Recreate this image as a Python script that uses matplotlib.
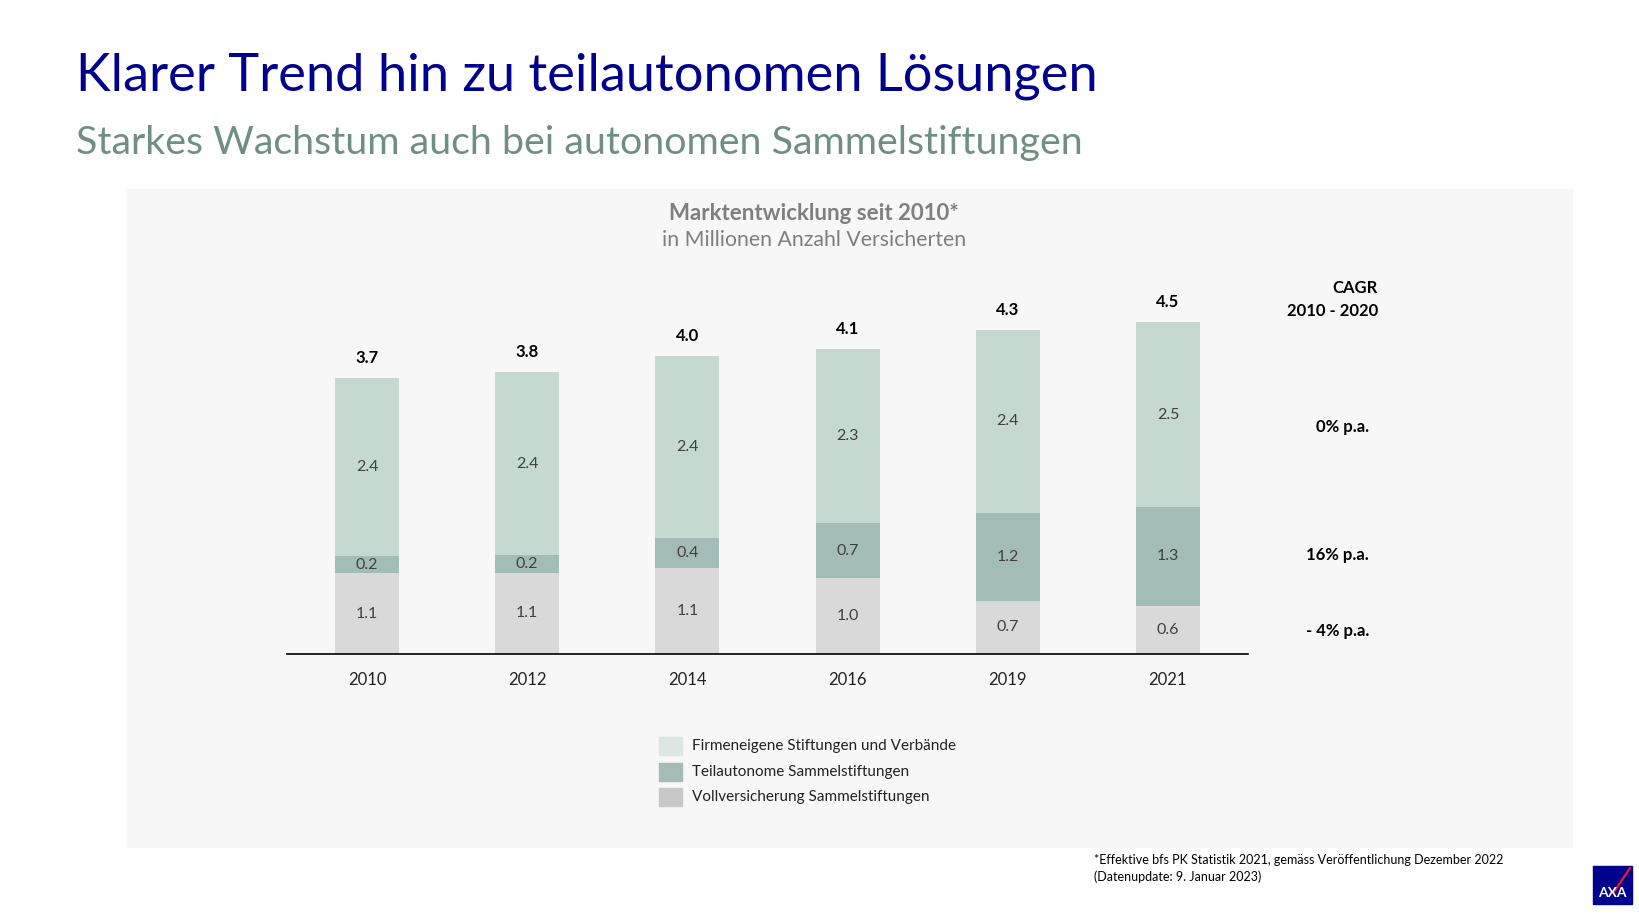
import matplotlib.pyplot as plt
from matplotlib.patches import Rectangle

plt.rcParams['font.family'] = ['Lato', 'DejaVu Sans']

# data
years = ["2010", "2012", "2014", "2016", "2019", "2021"]
voll = [1.09, 1.10, 1.16, 1.03, 0.72, 0.65]
teil = [0.23, 0.24, 0.41, 0.74, 1.19, 1.34]
firm = [2.42, 2.47, 2.46, 2.36, 2.48, 2.50]
voll_lbl = ["1.1", "1.1", "1.1", "1.0", "0.7", "0.6"]
teil_lbl = ["0.2", "0.2", "0.4", "0.7", "1.2", "1.3"]
firm_lbl = ["2.4", "2.4", "2.4", "2.3", "2.4", "2.5"]
total_lbl = ["3.7", "3.8", "4.0", "4.1", "4.3", "4.5"]
series = ["Firmeneigene Stiftungen und Verbände",
          "Teilautonome Sammelstiftungen",
          "Vollversicherung Sammelstiftungen"]
cagr = ["0% p.a.", "16% p.a.", "- 4% p.a."]

W, H = 1640, 917
fig = plt.figure(figsize=(W / 100, H / 100), dpi=100)
fig.patch.set_facecolor("white")


def fx(px):
    return px / W


def fy(py):
    return 1 - py / H


# grey panel, behind the axes
fig.patches.append(Rectangle((fx(127), fy(847)), fx(1572) - fx(127), fy(189) - fy(847),
                             transform=fig.transFigure, color="#f7f7f7", zorder=-5))

fig.text(fx(76), fy(76), "Klarer Trend hin zu teilautonomen Lösungen",
         color="#00008f", fontsize=37.7, va="center")
fig.text(fx(76), fy(143), "Starkes Wachstum auch bei autonomen Sammelstiftungen",
         color="#6f8f82", fontsize=28.4, va="center")
fig.text(fx(814), fy(213), "Marktentwicklung seit 2010*", color="#7f7f7f",
         fontsize=16, fontweight="bold", ha="center", va="center")
fig.text(fx(814), fy(240), "in Millionen Anzahl Versicherten", color="#7f7f7f",
         fontsize=15.3, ha="center", va="center")

ax = fig.add_axes([fx(287), fy(654), fx(1248) - fx(287), (654 - 260) / H])
ax.set_facecolor("none")
x = list(range(len(years)))
c_firm, c_teil, c_voll = "#c5d9d1", "#a3bcb6", "#d9d9d9"
bottom2 = [a + b for a, b in zip(voll, teil)]
ax.bar(x, voll, width=0.4, color=c_voll)
ax.bar(x, teil, width=0.4, bottom=voll, color=c_teil)
ax.bar(x, firm, width=0.4, bottom=bottom2, color=c_firm)

for i in x:
    ax.text(i, voll[i] / 2, voll_lbl[i], ha="center", va="center", fontsize=11.5, color="#404040")
    ax.text(i, voll[i] + teil[i] / 2, teil_lbl[i], ha="center", va="center", fontsize=11.5, color="#404040")
    ax.text(i, bottom2[i] + firm[i] / 2, firm_lbl[i], ha="center", va="center", fontsize=11.5, color="#404040")
    ax.text(i, bottom2[i] + firm[i] + 0.27, total_lbl[i], ha="center", va="center",
            fontsize=12, fontweight="bold", color="black")

ax.set_xlim(-0.5, 5.5)
ax.set_ylim(0, 394 / 73.9)
ax.set_xticks(x)
ax.set_xticklabels(years, fontsize=12, color="#222222")
ax.tick_params(axis="x", length=0, pad=13)
ax.set_yticks([])
for s in ["top", "right", "left"]:
    ax.spines[s].set_visible(False)
ax.spines["bottom"].set_color("black")
ax.spines["bottom"].set_linewidth(1.2)

# CAGR column
fig.text(fx(1378), fy(288), "CAGR", fontsize=12, fontweight="bold", ha="right", va="center")
fig.text(fx(1378), fy(311), "2010 - 2020", fontsize=12, fontweight="bold", ha="right", va="center")
for lbl, py in zip(cagr, [427, 555, 631]):
    fig.text(fx(1369), fy(py), lbl, fontsize=12, fontweight="bold", ha="right", va="center")

# legend
leg_cols = ["#dde6e3", c_teil, "#c8c8c8"]
for lbl, col, py in zip(series, leg_cols, [746, 772, 797]):
    fig.patches.append(Rectangle((fx(659), fy(py + 9)), fx(682) - fx(659), 18 / H,
                                 transform=fig.transFigure, color=col))
    fig.text(fx(692), fy(py), lbl, fontsize=11, color="#222222", va="center")

fig.text(fx(1094), fy(860), "*Effektive bfs PK Statistik 2021, gemäss Veröffentlichung Dezember 2022",
         fontsize=9, va="center")
fig.text(fx(1094), fy(877), "(Datenupdate: 9. Januar 2023)", fontsize=9, va="center")

# logo
fig.patches.append(Rectangle((fx(1593), fy(904)), fx(1632) - fx(1593), 38 / H,
                             transform=fig.transFigure, color="#00008f"))
fig.lines.append(plt.Line2D([fx(1614), fx(1630)], [fy(892), fy(868)],
                            transform=fig.transFigure, color="#ff1721", lw=1.5))
fig.text(fx(1612), fy(893), "AXA", color="white", fontsize=10, fontweight="bold",
         ha="center", va="center")

fig.savefig("out.png", dpi=100)
